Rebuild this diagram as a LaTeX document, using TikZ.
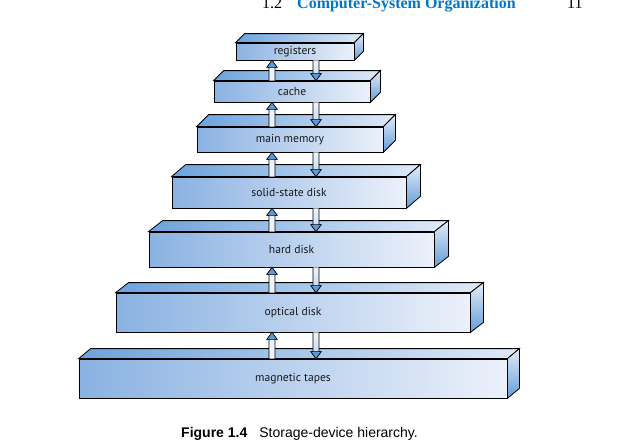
\documentclass[tikz,border=0pt]{standalone}
\usepackage{fontspec}
\setmainfont{Liberation Serif}
\newfontfamily\labelfont{PT Sans}
\newfontfamily\capfont{Liberation Sans}
\usetikzlibrary{calc}
\definecolor{frontL}{RGB}{138,178,226}
\definecolor{frontR}{RGB}{236,241,250}
\definecolor{topL}{RGB}{108,163,221}
\definecolor{topR}{RGB}{224,234,248}
\definecolor{sideT}{RGB}{226,236,249}
\definecolor{sideB}{RGB}{100,156,216}
\definecolor{titleblue}{RGB}{0,118,200}
\definecolor{arrowblue}{RGB}{95,152,216}
\definecolor{shaftL}{RGB}{238,244,251}
\definecolor{shaftD}{RGB}{190,212,238}
\newcommand\storbox[8]{%
  \node[front, minimum width={#3-#2}, minimum height={#5-#4}] (#1) at ({(#2+#3)/2},{(#4+#5)/2}) {#8};
  \path[topface] (#1.north west) -- ++(#6,-#7) -- ($(#1.north east)+(#6,-#7)$) -- (#1.north east) -- cycle;
  \path[sideface] (#1.north east) -- ++(#6,-#7) -- ($(#1.south east)+(#6,-#7)$) -- (#1.south east) -- cycle;
}
% up arrow: #1 = tail (bottom), #2 = tip (top)
\newcommand\uparr[2]{%
  \path[arrline, fill=shaftL] let \p1=(#1), \p2=(#2) in
    (\x1-3pt,\y1) -- (\x1-3pt,\y2-7pt) -- (\x1-5.2pt,\y2-7pt) -- (\x1,\y2)
    -- (\x1+5.2pt,\y2-7pt) -- (\x1+3pt,\y2-7pt) -- (\x1+3pt,\y1);
  \path[arrline, fill=arrowblue] let \p1=(#1), \p2=(#2) in
    (\x1-5.2pt,\y2-7pt) -- (\x1,\y2) -- (\x1+5.2pt,\y2-7pt) -- cycle;
}
% down arrow: #1 = tail (top), #2 = tip (bottom)
\newcommand\dnarr[2]{%
  \path[arrline, top color=shaftL, bottom color=shaftD] let \p1=(#1), \p2=(#2) in
    (\x1-3pt,\y1) -- (\x1-3pt,\y2+7pt) -- (\x1-5.2pt,\y2+7pt) -- (\x1,\y2)
    -- (\x1+5.2pt,\y2+7pt) -- (\x1+3pt,\y2+7pt) -- (\x1+3pt,\y1);
  \path[arrline, fill=arrowblue] let \p1=(#1), \p2=(#2) in
    (\x1-5.2pt,\y2+7pt) -- (\x1,\y2) -- (\x1+5.2pt,\y2+7pt) -- cycle;
}
\begin{document}
\begin{tikzpicture}[x=1pt,y=-1pt,line join=miter,
  front/.style={draw=black, line width=0.8pt, left color=frontL, right color=frontR,
    inner sep=0pt, text=black!90, font=\labelfont\fontsize{11.6}{13}\selectfont},
  topface/.style={draw=black, line width=0.8pt, left color=topL, right color=topR},
  sideface/.style={draw=black, line width=0.8pt, top color=sideT, bottom color=sideB},
  arrline/.style={draw=black, line width=0.6pt},
  hdr/.style={anchor=base west, inner sep=0pt, font=\fontsize{16}{18}\selectfont}]
\useasboundingbox (0,0) rectangle (620,442);
% running header
\node[hdr] (hnum) at (262,8) {1.2};
\node[hdr, text=titleblue, font=\bfseries\fontsize{16}{18}\selectfont] (htitle) at (297,8) {Computer-System Organization};
\node[hdr] (hpage) at (567,8) {11};
% boxes
\storbox{registers}{236}{354}{43}{60}{9}{9}{registers}
\storbox{cache}{214}{370}{81}{102}{10}{10}{cache}
\storbox{mainmem}{197}{383}{127}{152}{12}{12}{main memory}
\storbox{ssd}{172}{406}{177}{208}{14}{12}{solid-state disk}
\storbox{hdd}{149}{434}{232}{267}{14}{11}{hard disk}
\storbox{optical}{116}{470}{293}{332}{13}{10}{optical disk}
\storbox{tapes}{79}{507}{359}{398}{12}{10}{magnetic tapes}
% arrows
\coordinate (upx) at (272,0);
\coordinate (dnx) at (316,0);
\foreach \lo/\hi in {cache/registers, mainmem/cache, ssd/mainmem, hdd/ssd, optical/hdd, tapes/optical}{
  \uparr{\lo.north -| upx}{\hi.south -| upx}
  \dnarr{\hi.south -| dnx}{\lo.north -| dnx}
}
% caption
\node[anchor=base west, inner sep=0pt, font=\capfont\fontsize{14}{16}\selectfont] (caption) at (181,437)
  {\textbf{Figure 1.4}\hspace{12pt}Storage-device hierarchy.};
\end{tikzpicture}
\end{document}
